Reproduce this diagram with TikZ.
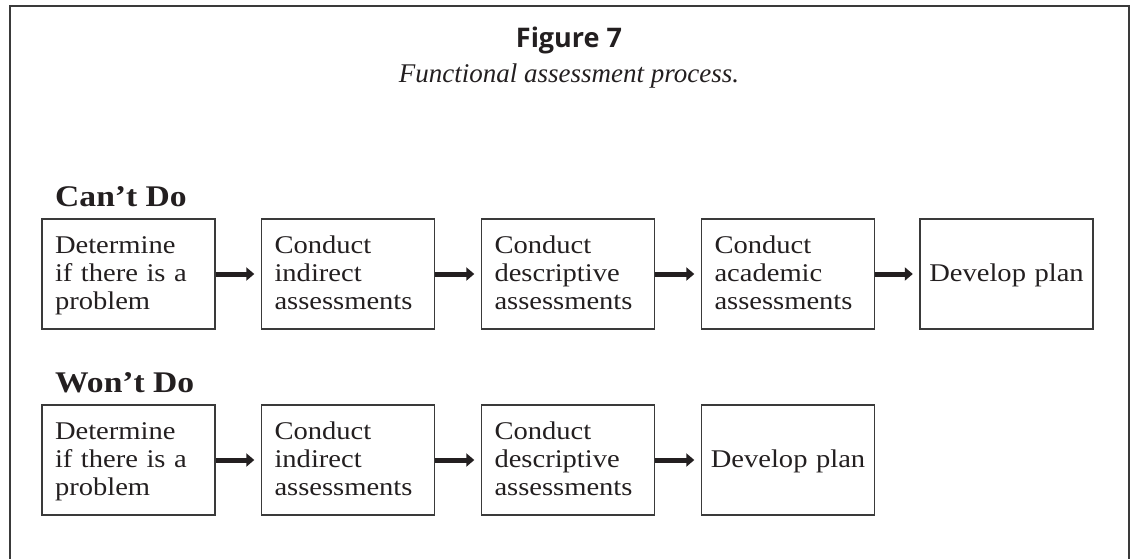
\documentclass[tikz,border=0pt]{standalone}
\usepackage{fontspec}
\setmainfont[FakeStretch=1.12]{Liberation Serif}
\newfontfamily\capfont{Liberation Serif}
\setsansfont{Open Sans}
\usetikzlibrary{arrows.meta}
\definecolor{ink}{HTML}{231F20}
\definecolor{rule}{HTML}{3A3A3A}
\begin{document}
\begin{tikzpicture}[x=1pt,y=-1pt,
  stepbox/.style={draw=rule, line width=1.4pt, text=ink,
    text width=147pt, inner xsep=13pt, inner ysep=0pt,
    minimum height=110pt, align=left,
    execute at begin node={\rule{0pt}{21pt}},
    execute at end node={\rule[-7pt]{0pt}{7pt}},
    font=\fontsize{25.5}{28}\selectfont},
  endbox/.style={stepbox, align=center, text width=165pt, inner xsep=4pt},
  heading/.style={anchor=base west, text=ink, inner sep=0pt,
    font=\bfseries\fontsize{30}{33}\selectfont},
  flow/.style={draw=ink, line width=5pt, shorten >=6.5pt,
    -{Triangle[length=8pt,width=13pt]}}]
\useasboundingbox (0,0) rectangle (1133,559);
% outer frame, open at the foot of the page
\draw[rule, line width=2pt] (9.5,575) -- (9.5,6.5) -- (1128.5,6.5) -- (1128.5,575);

% caption
\node[anchor=base, text=ink, inner sep=0pt,
  font=\sffamily\bfseries\fontsize{27}{30}\selectfont] (title) at (569,48) {Figure 7};
\node[anchor=base, text=ink, inner sep=0pt,
  font=\capfont\itshape\fontsize{27}{30}\selectfont] (subtitle) at (569,83) {Functional assessment process.};

% Can't Do
\node[heading] (cant) at (55,207) {Can’t Do};
\node[stepbox] (c1) at (128.5,274) {Determine\\if there is a\\problem};
\node[stepbox] (c2) at (348,274) {Conduct\\indirect\\assessments};
\node[stepbox] (c3) at (568,274) {Conduct\\descriptive\\assessments};
\node[stepbox] (c4) at (788,274) {Conduct\\academic\\assessments};
\node[endbox]  (c5) at (1006.5,274) {Develop plan};
\foreach \a/\b in {c1/c2,c2/c3,c3/c4,c4/c5}
  \draw[flow] (\a.east) -- (\b.west);

% Won't Do
\node[heading] (wont) at (55,392) {Won’t Do};
\node[stepbox] (w1) at (128.5,460) {Determine\\if there is a\\problem};
\node[stepbox] (w2) at (348,460) {Conduct\\indirect\\assessments};
\node[stepbox] (w3) at (568,460) {Conduct\\descriptive\\assessments};
\node[endbox]  (w4) at (788,460) {Develop plan};
\foreach \a/\b in {w1/w2,w2/w3,w3/w4}
  \draw[flow] (\a.east) -- (\b.west);
\end{tikzpicture}
\end{document}
